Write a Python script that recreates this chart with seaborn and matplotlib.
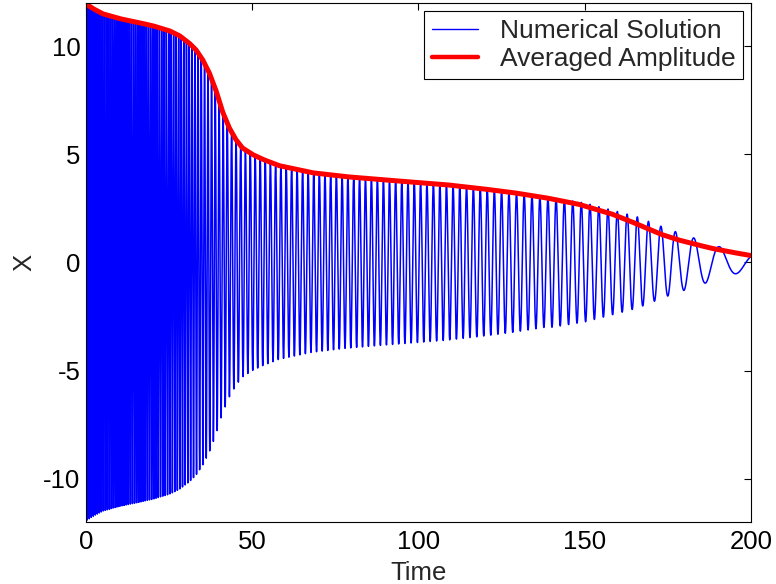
import numpy as np
import pandas as pd
import matplotlib
matplotlib.use("Agg")
import matplotlib.pyplot as plt
import seaborn as sns

# averaged amplitude (red)
amp_t = [0, 2, 5, 10, 15, 20, 25, 28, 31, 33, 35, 37, 39, 41, 43, 45, 47, 50,
         53, 58, 68, 78, 88, 98, 108, 118, 128, 138, 148, 158, 163, 168, 173,
         178, 183, 188, 194, 200]
amp_val = [11.95, 11.75, 11.5, 11.28, 11.12, 10.95, 10.72, 10.5, 10.15, 9.85,
           9.4, 8.8, 8.0, 7.0, 6.25, 5.7, 5.3, 5.0, 4.78, 4.48, 4.15, 3.97,
           3.84, 3.72, 3.6, 3.43, 3.24, 3.0, 2.7, 2.25, 1.95, 1.63, 1.3, 1.05,
           0.85, 0.66, 0.48, 0.32]

# amplitude of the numerical solution's swings (slightly above the average late on)
num_amp_t = [0, 140, 150, 160, 166, 170, 175, 180, 186, 190, 196, 200]
num_amp_val = [11.95, 3.0, 2.75, 2.35, 2.1, 1.85, 1.55, 1.28, 0.97, 0.75, 0.5, 0.38]

# local oscillation period, measured from peak spacing
per_t = [0, 20, 30, 38, 43, 48, 55, 63, 80, 100, 120, 130, 140, 150, 158, 165,
         170, 175, 180, 186, 195, 200]
per_val = [0.6, 0.65, 0.8, 1.1, 1.3, 1.45, 1.55, 1.65, 1.75, 1.9, 2.1, 2.3,
           2.45, 2.6, 2.8, 3.1, 3.6, 4.3, 5.5, 7.5, 11.0, 12.0]
peak_time = 190.5

t = np.linspace(0, 200, 40001)
env = np.interp(t, amp_t, amp_val)
env_num = np.where(t < 140, env, np.interp(t, num_amp_t, num_amp_val))
freq = 1.0 / np.interp(t, per_t, per_val)
phase = 2 * np.pi * np.concatenate([[0], np.cumsum(0.5 * (freq[1:] + freq[:-1]) * np.diff(t))])
phase -= np.interp(peak_time, t, phase)
x = env_num * np.cos(phase)

df_num = pd.DataFrame({"Time": t, "X": x})
df_avg = pd.DataFrame({"Time": t, "X": env})

sns.set_style("white")
plt.rcParams['font.family'] = ['Liberation Sans', 'DejaVu Sans']
plt.rcParams['font.size'] = 18.5
plt.rcParams['axes.unicode_minus'] = False

fs = 18.5
fig = plt.figure(figsize=(7.76, 5.84), dpi=100)
ax = fig.add_axes([0.1108, 0.1062, 0.857, 0.8887])

sns.lineplot(data=df_num, x="Time", y="X", ax=ax, color="#0000ff", lw=1.1,
             estimator=None, label="Numerical Solution")
sns.lineplot(data=df_avg, x="Time", y="X", ax=ax, color="#ff0000", lw=3.6,
             estimator=None, label="Averaged Amplitude")

ax.set_xlim(0, 200)
ax.set_ylim(-12, 12)
ax.set_xticks([0, 50, 100, 150, 200])
ax.set_yticks([-10, -5, 0, 5, 10])
ax.tick_params(direction="in", length=5, width=0.8, top=True, right=True,
               labelsize=fs, colors="black")
ax.tick_params(axis="x", pad=6)
ax.tick_params(axis="y", pad=4)
for s in ax.spines.values():
    s.set_color("black")
    s.set_linewidth(0.8)
ax.set_xlabel("Time", fontsize=fs, labelpad=5)
ax.set_ylabel("X", fontsize=fs, labelpad=5)

leg = ax.legend(loc="upper right", fancybox=False, framealpha=1,
                edgecolor="black", fontsize=19, borderaxespad=0.3,
                handlelength=1.75, handletextpad=0.8, borderpad=0.3,
                labelspacing=0.15)
leg.get_frame().set_linewidth(0.8)
leg.get_lines()[0].set_linewidth(1.0)
leg.get_lines()[1].set_linewidth(3.2)

fig.savefig("out.png", dpi=100)
